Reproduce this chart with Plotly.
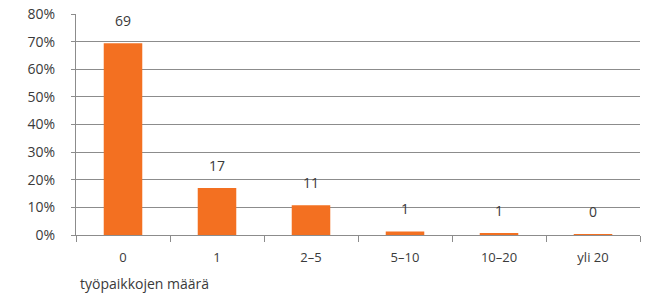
import plotly.graph_objects as go

categories = ["0", "1", "2\u20135", "5\u201310", "10\u201320", "yli 20"]
values = [69.4, 17.0, 10.8, 1.3, 0.5, 0.3]
labels = ["69", "17", "11", "1", "1", "0"]
y_ticks = [0, 10, 20, 30, 40, 50, 60, 70, 80]
x_title = "työpaikkojen määrä"

font_family = "Open Sans, Noto Sans, sans-serif"
text_color = "#3a3a3a"
grid_color = "#8c8c8c"

fig = go.Figure()
fig.add_trace(go.Bar(
    x=categories, y=values,
    marker=dict(color="#F37021", line=dict(width=0)),
    width=0.41,
    hoverinfo="skip",
))

for c, v, t in zip(categories, values, labels):
    fig.add_annotation(x=c, y=v, text=t, showarrow=False, yshift=23,
                       font=dict(size=14, color=text_color, family=font_family))

fig.add_annotation(xref="paper", yref="paper", x=0, y=0, xanchor="left", yanchor="middle",
                   xshift=2, yshift=-48,
                   text=x_title, showarrow=False,
                   font=dict(size=14, color=text_color, family=font_family))

fig.update_layout(
    width=650, height=297,
    margin=dict(l=76, r=10, t=14, b=62, autoexpand=False),
    paper_bgcolor="white", plot_bgcolor="white",
    showlegend=False,
    font=dict(family=font_family, size=14, color=text_color),
    xaxis=dict(
        type="category",
        automargin=False,
        tickson="boundaries",
        ticks="outside", ticklen=6, tickcolor=grid_color, tickwidth=1,
        showline=True, linecolor=grid_color, linewidth=1,
        showgrid=False,
        tickfont=dict(size=13, color=text_color),
        ticklabelstandoff=10,
    ),
    yaxis=dict(
        automargin=False,
        range=[0, 80],
        tickvals=y_ticks,
        ticktext=[f"{v}%" for v in y_ticks],
        showgrid=True, gridcolor=grid_color, gridwidth=1,
        ticks="outside", ticklen=4, tickcolor=grid_color,
        showline=True, linecolor=grid_color, linewidth=1,
        zeroline=False,
        tickfont=dict(size=14, color=text_color),
        ticklabelstandoff=13,
    ),
)

fig.write_html("out.html", config={"displayModeBar": False},
               post_script="document.body.style.margin='0';document.body.style.overflow='hidden';")
